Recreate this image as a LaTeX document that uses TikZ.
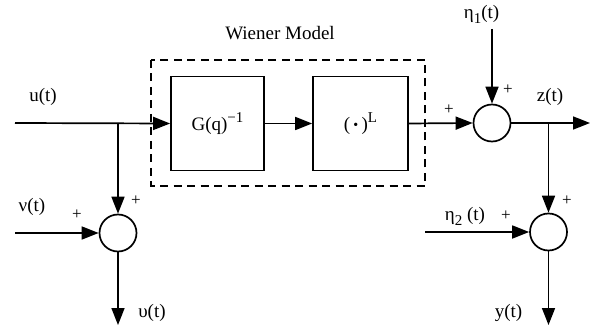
\documentclass[tikz,border=0pt]{standalone}
\usepackage{fontspec}
\setmainfont{Liberation Serif}
\usetikzlibrary{arrows.meta}
\newcommand{\mysub}[1]{\raisebox{-5pt}{\fontsize{15}{15}\selectfont #1}}
\newcommand{\mysup}[1]{\raisebox{8pt}{\fontsize{15}{15}\selectfont #1}}
\tikzset{
  sig/.style={line width=1.7pt,-{Triangle[length=17pt,width=13pt]}},
  blk/.style={draw,line width=1.7pt,minimum width=93pt,minimum height=94pt,inner sep=0pt,font=\fontsize{19}{22}\selectfont},
  sumc/.style={draw,circle,line width=1.7pt,minimum size=37pt,inner sep=0pt},
  lbl/.style={inner sep=0pt,font=\fontsize{19}{22}\selectfont},
  pl/.style={inner sep=0pt,font=\fontsize{17}{20}\selectfont},
}
\begin{document}
\begin{tikzpicture}[x=1pt,y=-1pt]
\useasboundingbox (0,0) rectangle (599,331);
% dashed Wiener model box
\draw[line width=1.1pt,dash pattern=on 8pt off 5.5pt] (151,60) rectangle (425,186);
\node[lbl] (wm) at (280,33) {Wiener Model};
% blocks
\node[blk] (G) at (217.5,123.5) {\raisebox{-4pt}{G(q)\mysup{−1}}};
\node[blk,minimum width=95pt] (L) at (360.5,123.5) {\raisebox{-2pt}{(\,\raisebox{1pt}{\fontsize{14}{14}\selectfont •}\,)\mysup{L}}};
% summing junctions
\node[sumc] (S1) at (492,123) {};
\node[sumc] (S2) at (548.5,232) {};
\node[sumc] (S3) at (118,233) {};
% coordinates
\coordinate (uin) at (15,123);
\coordinate (b1) at (118,123);
\coordinate (eta1) at (492,29);
\coordinate (zout) at (590,123);
\coordinate (b2) at (548.5,123);
\coordinate (eta2) at (425,232);
\coordinate (yout) at (548.5,325);
\coordinate (nuin) at (15,233);
\coordinate (upout) at (118,325);
% connectors
\draw[sig] (uin) -- (G.west);
\draw[sig] (b1) -- (S3.north);
\draw[sig] (G.east) -- (L.west);
\draw[sig] (L.east) -- (S1.west);
\draw[sig] (eta1) -- (S1.north);
\draw[sig] (S1.east) -- (zout);
\draw[sig] (b2) -- (S2.north);
\draw[sig] (eta2) -- (S2.west);
\draw[sig] (S2.south) -- (yout);
\draw[sig] (nuin) -- (S3.west);
\draw[sig] (S3.south) -- (upout);
% labels
\node[lbl] (lu) at (43,97) {u(t)};
\node[lbl] (leta1) at (481.5,14) {η\mysub{1}(t)};
\node[lbl] (lz) at (550,97) {z(t)};
\node[lbl] (leta2) at (465,216) {η\mysub{2} (t)};
\node[lbl] (ly) at (508.5,313) {y(t)};
\node[lbl] (lnu) at (32,207) {ν(t)};
\node[lbl] (lup) at (152,313) {υ(t)};
% plus signs
\node[pl] (p1) at (449,110) {+};
\node[pl] (p2) at (508,90) {+};
\node[pl] (p3) at (567,201) {+};
\node[pl] (p4) at (506,216) {+};
\node[pl] (p5) at (77,215) {+};
\node[pl] (p6) at (136,201) {+};
\end{tikzpicture}
\end{document}
